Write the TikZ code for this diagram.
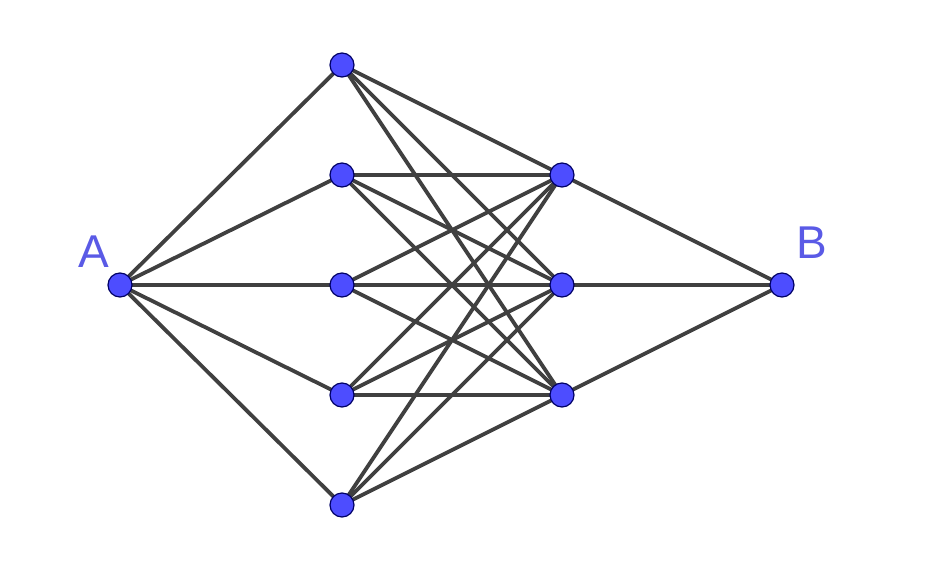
\documentclass[tikz,border=0pt]{standalone}
\usepackage{fontspec}
\setmainfont{Liberation Sans}
\usetikzlibrary{backgrounds}
\begin{document}
\begin{tikzpicture}[x=1pt,y=-1pt,line join=round, line cap=round,
    pt/.style={circle,draw=blue!40!black,fill={rgb,255:red,77;green,77;blue,255},line width=1.2pt,minimum size=24pt,inner sep=0pt},
    edge/.style={draw={rgb,255:red,64;green,64;blue,64},line width=3.8pt},
    lbl/.style={text={rgb,255:red,90;green,90;blue,230},font=\fontsize{46}{50}\selectfont,inner sep=0pt}]
        \useasboundingbox (0,0) rectangle (942,564);
        \node[pt] (A) at (120,285) {};
        \node[pt] (B) at (782,285) {};
        \foreach \i/\y in {1/65,2/175,3/285,4/395,5/505}
            \node[pt] (L\i) at (342,\y) {};
        \foreach \j/\y in {1/175,2/285,3/395}
            \node[pt] (R\j) at (562,\y) {};
        \node[lbl] (a) at (94,252) {A};
        \node[lbl] (b) at (812,243) {B};
        \begin{scope}[on background layer]
        \foreach \i in {1,...,5}{
            \draw[edge] (A.center) -- (L\i.center);
            \foreach \j in {1,2,3}
                \draw[edge] (L\i.center) -- (R\j.center);
        }
        \foreach \j in {1,2,3}
            \draw[edge] (R\j.center) -- (B.center);
        \end{scope}
\end{tikzpicture}
\end{document}
